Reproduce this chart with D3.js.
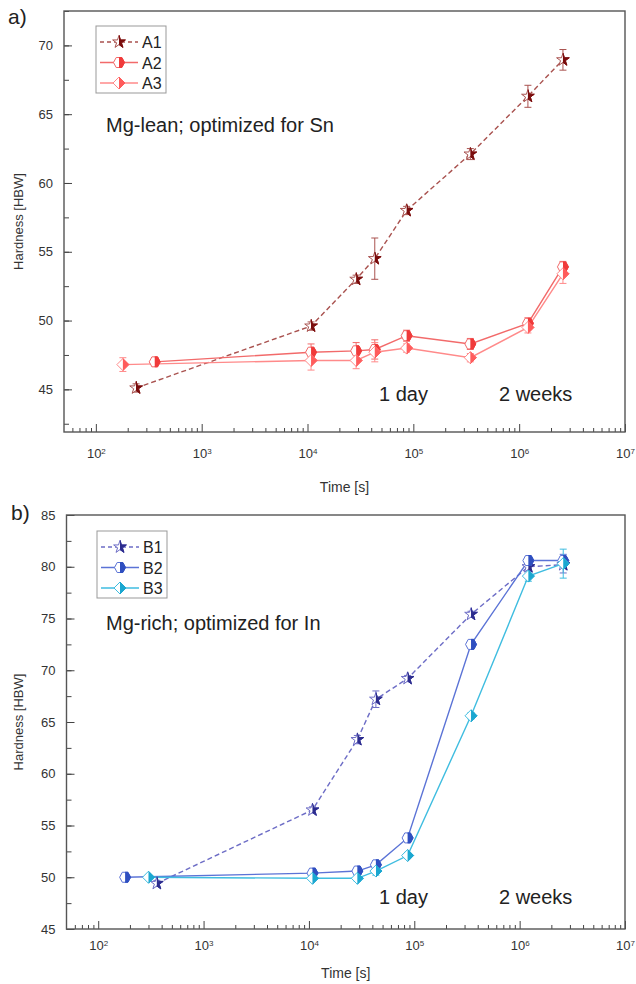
<!DOCTYPE html>
<html>
<head>
<meta charset="utf-8">
<script src="https://cdn.jsdelivr.net/npm/d3@7"></script>
<style>
  body { margin: 0; background: #fff; }
  text { font-family: "Liberation Sans", Arial, sans-serif; }
</style>
</head>
<body>
<svg width="636" height="984"></svg>
<script>
// ---- data (time in s, hardness in HBW) ----
const timeA1 = [240, 10800, 28800, 43200, 86400, 345600, 1209600, 2592000];
const hardA1 = [45.1, 49.6, 53.0, 54.5, 58.0, 62.1, 66.3, 68.95];
const errA1  = [0.3, 0.3, 0.3, 1.5, 0.3, 0.4, 0.8, 0.75];

const timeA2 = [360, 10800, 28800, 43200, 86400, 345600, 1209600, 2592000];
const hardA2 = [47.0, 47.7, 47.8, 47.9, 48.9, 48.3, 49.8, 53.9];
const errA2  = [0.3, 0.6, 0.6, 0.7, 0.4, 0.4, 0.4, 0.4];

const timeA3 = [180, 10800, 28800, 43200, 86400, 345600, 1209600, 2592000];
const hardA3 = [46.8, 47.1, 47.1, 47.7, 48.0, 47.3, 49.5, 53.4];
const errA3  = [0.5, 0.7, 0.6, 0.7, 0.3, 0.3, 0.4, 0.7];

const timeB1 = [360, 10800, 28800, 43200, 86400, 345600, 1209600, 2592000];
const hardB1 = [49.4, 56.5, 63.3, 67.2, 69.2, 75.4, 80.0, 80.2];
const errB1  = [0.3, 0.3, 0.4, 0.8, 0.3, 0.3, 0.4, 0.8];

const timeB2 = [180, 10800, 28800, 43200, 86400, 345600, 1209600, 2592000];
const hardB2 = [50.0, 50.4, 50.6, 51.2, 53.8, 72.5, 80.6, 80.6];
const errB2  = [0.2, 0.2, 0.3, 0.4, 0.3, 0.3, 0.4, 0.6];

const timeB3 = [300, 10800, 28800, 43200, 86400, 345600, 1209600, 2592000];
const hardB3 = [50.0, 49.9, 49.9, 50.6, 52.1, 65.6, 79.1, 80.3];
const errB3  = [0.2, 0.2, 0.3, 0.4, 0.3, 0.3, 0.5, 1.4];

const xTicks  = [1e2, 1e3, 1e4, 1e5, 1e6, 1e7];
const yTicksA = [45, 50, 55, 60, 65, 70];
const yTicksB = [45, 50, 55, 60, 65, 70, 75, 80, 85];

const svg = d3.select("svg");

// clip used to fill only the right half of each marker
svg.append("defs").append("clipPath").attr("id", "rightHalf")
   .append("rect").attr("x", 0).attr("y", -20).attr("width", 20).attr("height", 40);

const shapes = {
  star: d3.symbol().type(d3.symbolStar).size(50)(),
  hex: "M-5.5,0L-2.8,-5L2.8,-5L5.5,0L2.8,5L-2.8,5Z",
  diamond: "M-6,0L0,-6L6,0L0,6Z"
};

function marker(g, x, y, s) {
  const m = g.append("g").attr("transform", `translate(${x},${y})`);
  m.append("path").attr("d", shapes[s.shape]).attr("fill", "#fff")
   .attr("stroke", s.line).attr("stroke-width", 1);
  m.append("path").attr("d", shapes[s.shape]).attr("fill", s.mark)
   .attr("stroke", s.mark).attr("stroke-width", 1).attr("clip-path", "url(#rightHalf)");
}

function drawPanel(p) {
  const g = svg.append("g");

  const x = d3.scaleLog().domain([50, 1e7]).range([p.left, p.right]);
  const y = d3.scaleLinear().domain(p.yDomain).range([p.bottom, p.top]);

  // minor x ticks
  const minors = [];
  for (let dec = 1e1; dec < 1e7; dec *= 10) {
    for (let k = 2; k <= 9; k++) {
      const v = k * dec;
      if (v > 50 && v < 1e7) minors.push(v);
    }
  }
  g.append("g")
   .attr("transform", `translate(0, ${p.bottom})`)
   .call(d3.axisBottom(x).tickValues(minors).tickSize(-4).tickFormat(""))
   .call(a => a.select(".domain").remove())
   .selectAll("line").attr("stroke", "#444");

  const xAx = g.append("g")
   .attr("transform", `translate(0, ${p.bottom})`)
   .call(d3.axisBottom(x).tickValues(xTicks).tickSize(-8).tickPadding(p.xPad))
   .call(a => a.select(".domain").remove());
  xAx.selectAll("line").attr("stroke", "#444");
  xAx.selectAll("text")
     .attr("font-size", "13px").attr("fill", "#333")
     .each(function(d) {
        const t = d3.select(this);
        t.text("10");
        t.append("tspan").attr("dy", "-0.55em").attr("font-size", "8px")
         .text(Math.round(Math.log10(d)));
     });

  // y ticks
  const yMinor = d3.range(42.5, p.yDomain[1] + 0.01, 2.5);
  g.append("g")
   .attr("transform", `translate(${p.left}, 0)`)
   .call(d3.axisLeft(y).tickValues(yMinor.filter(v => v >= p.yDomain[0])).tickSize(-5).tickFormat(""))
   .call(a => a.select(".domain").remove())
   .selectAll("line").attr("stroke", "#444");

  const yAx = g.append("g")
   .attr("transform", `translate(${p.left}, 0)`)
   .call(d3.axisLeft(y).tickValues(p.yTicks).tickSize(-8).tickPadding(11))
   .call(a => a.select(".domain").remove());
  yAx.selectAll("line").attr("stroke", "#444");
  yAx.selectAll("text").attr("font-size", "13px").attr("fill", "#333");

  // frame
  g.append("rect")
   .attr("x", p.left).attr("y", p.top)
   .attr("width", p.right - p.left).attr("height", p.bottom - p.top)
   .attr("fill", "none").attr("stroke", "#555").attr("stroke-width", 1.4);

  // axis labels
  g.append("text")
   .attr("x", (p.left + p.right) / 2).attr("y", p.bottom + p.titleOff)
   .attr("text-anchor", "middle").attr("font-size", "14px").attr("fill", "#333")
   .text("Time [s]");

  g.append("text")
   .attr("transform", `translate(23, ${(p.top + p.bottom) / 2}) rotate(-90)`)
   .attr("text-anchor", "middle").attr("font-size", "13px").attr("fill", "#333")
   .text("Hardness [HBW]");

  g.append("text").attr("x", p.tagX).attr("y", p.tagY)
   .attr("font-size", "21px").attr("fill", "#222").text(p.tag);

  // annotations
  g.append("text").attr("x", 106).attr("y", p.noteY)
   .attr("font-size", "20px").attr("fill", "#222").text(p.note);
  g.append("text").attr("x", 379).attr("y", p.dayY)
   .attr("font-size", "20px").attr("fill", "#222").text("1 day");
  g.append("text").attr("x", 499).attr("y", p.dayY)
   .attr("font-size", "20px").attr("fill", "#222").text("2 weeks");

  // series lines
  const line = d3.line().x(d => x(d[0])).y(d => y(d[1]));
  p.series.forEach(s => {
    const pts = s.t.map((t, i) => [t, s.v[i], s.e[i]]);
    g.append("path").datum(pts)
     .attr("d", line).attr("fill", "none")
     .attr("stroke", s.line).attr("stroke-width", 1.4)
     .attr("stroke-dasharray", s.dash || null);
  });

  // error bars + markers
  p.series.forEach(s => {
    s.t.forEach((t, i) => {
      const cx = x(t), y0 = y(s.v[i] - s.e[i]), y1 = y(s.v[i] + s.e[i]);
      g.append("line").attr("x1", cx).attr("x2", cx).attr("y1", y0).attr("y2", y1)
       .attr("stroke", s.line).attr("stroke-width", 1);
      [y0, y1].forEach(yy => g.append("line")
       .attr("x1", cx - 3.5).attr("x2", cx + 3.5).attr("y1", yy).attr("y2", yy)
       .attr("stroke", s.line).attr("stroke-width", 1));
    });
  });
  p.series.forEach(s => {
    s.t.forEach((t, i) => marker(g, x(t), y(s.v[i]), s));
  });

  // legend
  const L = p.legend;
  g.append("rect").attr("x", L.x).attr("y", L.y).attr("width", 70).attr("height", 67)
   .attr("fill", "#fff").attr("stroke", "#999").attr("stroke-width", 1);
  p.series.forEach((s, i) => {
    const ly = L.y + 16 + i * 20.5;
    g.append("line").attr("x1", L.x + 4).attr("x2", L.x + 42).attr("y1", ly).attr("y2", ly)
     .attr("stroke", s.line).attr("stroke-width", 1.4)
     .attr("stroke-dasharray", s.dash ? "4,3" : null);
    marker(g, L.x + 23, ly, s);
    g.append("text").attr("x", L.x + 46).attr("y", ly + 6)
     .attr("font-size", "16px").attr("fill", "#222").text(s.name);
  });
}

drawPanel({
  top: 11, bottom: 432, left: 64, right: 625,
  yDomain: [41.9, 72.5], yTicks: yTicksA,
  xPad: 17, titleOff: 60,
  tag: "a)", tagX: 8, tagY: 24,
  note: "Mg-lean; optimized for Sn", noteY: 132, dayY: 401,
  legend: {x: 96, y: 26},
  series: [
    {name: "A1", t: timeA1, v: hardA1, e: errA1, line: "#a9524f", mark: "#7a0c0c", dash: "5,3", shape: "star"},
    {name: "A2", t: timeA2, v: hardA2, e: errA2, line: "#f26a6a", mark: "#f03a3a", shape: "hex"},
    {name: "A3", t: timeA3, v: hardA3, e: errA3, line: "#ff8a8a", mark: "#ff5c5c", shape: "diamond"}
  ]
});

drawPanel({
  top: 515, bottom: 929, left: 66.5, right: 625,
  yDomain: [45, 85], yTicks: yTicksB,
  xPad: 12, titleOff: 49,
  tag: "b)", tagX: 11, tagY: 520,
  note: "Mg-rich; optimized for In", noteY: 630, dayY: 904,
  legend: {x: 97, y: 531},
  series: [
    {name: "B1", t: timeB1, v: hardB1, e: errB1, line: "#6d6dc6", mark: "#2c2c8e", dash: "5,3", shape: "star"},
    {name: "B2", t: timeB2, v: hardB2, e: errB2, line: "#5b73d6", mark: "#2f4fc0", shape: "hex"},
    {name: "B3", t: timeB3, v: hardB3, e: errB3, line: "#3fbde0", mark: "#1ba7d0", shape: "diamond"}
  ]
});
</script>
</body>
</html>
